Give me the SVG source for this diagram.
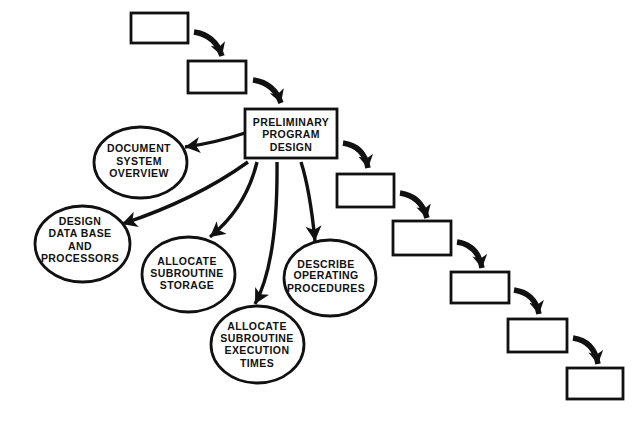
<svg xmlns="http://www.w3.org/2000/svg" width="638" height="421" viewBox="0 0 638 421">
<style>
.box{fill:#fff;stroke:#111;stroke-width:2.8}
.ell{fill:#fff;stroke:#111;stroke-width:2.8}
.t{font-family:"Liberation Sans",Arial,sans-serif;font-weight:bold;font-size:10.5px;letter-spacing:0.4px;fill:#111;text-anchor:middle}
.step{fill:none;stroke:#111;stroke-width:5.5;marker-end:url(#bigHead)}
.sub{fill:none;stroke:#111;stroke-width:3.4;marker-end:url(#smallHead)}
</style>
<defs>
<marker id="bigHead" markerUnits="userSpaceOnUse" viewBox="0 0 13 15" refX="13" refY="7.5" markerWidth="13" markerHeight="15" orient="auto">
<path d="M0,0 L13,7.5 L0,15 L3.5,7.5 Z" fill="#111"/>
</marker>
<marker id="smallHead" markerUnits="userSpaceOnUse" viewBox="0 0 15 16" refX="15" refY="8" markerWidth="15" markerHeight="16" orient="auto">
<path d="M0,0 L15,8 L0,16 L4,8 Z" fill="#111"/>
</marker>
</defs>
<rect width="638" height="421" fill="#fff"/>
<g id="connectors">
<path class="step" d="M194,32 Q215,35 222,56"/>
<path class="step" d="M253,80 Q274,83 281,103"/>
<path class="step" d="M343,143 Q364,146 368,168"/>
<path class="step" d="M400,193 Q421,196 427,218"/>
<path class="step" d="M457,242 Q478,245 482,268"/>
<path class="step" d="M514,290 Q535,293 539,314"/>
<path class="step" d="M573,338 Q594,341 598,364"/>
<path class="sub" d="M245,133 Q215,143 185,147"/>
<path class="sub" d="M248,162 Q195,200 122,224"/>
<path class="sub" d="M257,162 Q246,208 210,237"/>
<path class="sub" d="M277,162 Q278,262 255,304"/>
<path class="sub" d="M301,162 Q310,190 315,241"/>
</g>
<g id="step1"><rect class="box" x="131" y="13" width="57" height="30"/></g>
<g id="step2"><rect class="box" x="188" y="61" width="58" height="32"/></g>
<g id="preliminary">
<rect class="box" x="245" y="109" width="92" height="49"/>
<text class="t" x="291" y="125.5">PRELIMINARY</text>
<text class="t" x="291" y="138">PROGRAM</text>
<text class="t" x="291" y="150.5">DESIGN</text>
</g>
<g id="step3"><rect class="box" x="337" y="174" width="57" height="33"/></g>
<g id="step4"><rect class="box" x="393" y="221" width="58" height="34"/></g>
<g id="step5"><rect class="box" x="451" y="272" width="58" height="31"/></g>
<g id="step6"><rect class="box" x="508" y="319" width="59" height="33"/></g>
<g id="step7"><rect class="box" x="567" y="368" width="56" height="31"/></g>
<g id="document">
<ellipse class="ell" cx="140.5" cy="162.5" rx="46.5" ry="35.5"/>
<text class="t" x="139" y="151.5">DOCUMENT</text>
<text class="t" x="139" y="164.5">SYSTEM</text>
<text class="t" x="139" y="176.5">OVERVIEW</text>
</g>
<g id="database">
<ellipse class="ell" cx="82.5" cy="244" rx="47.5" ry="38"/>
<text class="t" x="80" y="224.5">DESIGN</text>
<text class="t" x="80" y="237">DATA BASE</text>
<text class="t" x="80" y="249.5">AND</text>
<text class="t" x="80" y="261.5">PROCESSORS</text>
</g>
<g id="storage">
<ellipse class="ell" cx="188.5" cy="274.5" rx="46.5" ry="37.5"/>
<text class="t" x="187" y="264.5">ALLOCATE</text>
<text class="t" x="187" y="277">SUBROUTINE</text>
<text class="t" x="187" y="289">STORAGE</text>
</g>
<g id="execution">
<ellipse class="ell" cx="257.5" cy="344.5" rx="46.5" ry="38.5"/>
<text class="t" x="257" y="329.5">ALLOCATE</text>
<text class="t" x="257" y="341.5">SUBROUTINE</text>
<text class="t" x="257" y="354">EXECUTION</text>
<text class="t" x="257" y="366.5">TIMES</text>
</g>
<g id="procedures">
<ellipse class="ell" cx="330" cy="278" rx="46" ry="38"/>
<text class="t" x="326" y="267.5">DESCRIBE</text>
<text class="t" x="326" y="279">OPERATING</text>
<text class="t" x="326" y="291.5">PROCEDURES</text>
</g>
</svg>
